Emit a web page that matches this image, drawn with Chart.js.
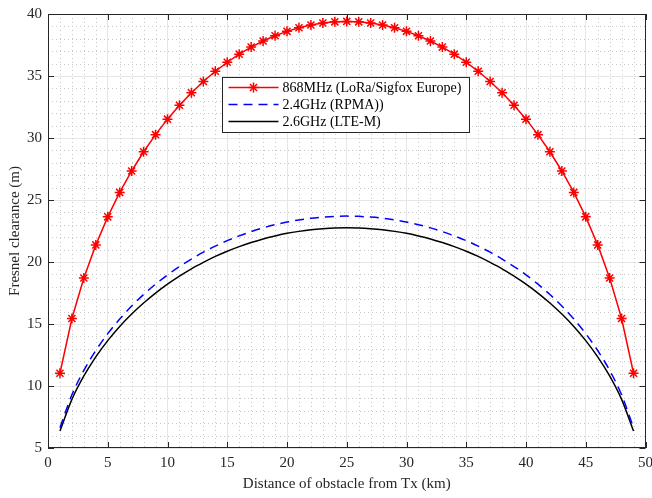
<!DOCTYPE html>
<html>
<head>
<meta charset="utf-8">
<script src="https://cdn.jsdelivr.net/npm/chart.js@4"></script>
<style>
  html, body { margin: 0; padding: 0; background: #fff; }
  #wrap { width: 652px; height: 498px; }
</style>
</head>
<body>
<div id="wrap"><canvas id="chart" width="652" height="498"></canvas></div>
<script>
// distance of the obstacle from Tx (km)
const distances = [1, 2, 3, 4, 5, 6, 7, 8, 9, 10, 11, 12, 13, 14, 15, 16, 17, 18, 19, 20, 21, 22, 23, 24, 25,
  26, 27, 28, 29, 30, 31, 32, 33, 34, 35, 36, 37, 38, 39, 40, 41, 42, 43, 44, 45, 46, 47, 48, 49];

// Fresnel clearance (m)
const lora868 = [11.03, 15.44, 18.71, 21.38, 23.64, 25.61, 27.34, 28.89, 30.27, 31.52, 32.64, 33.65, 34.56,
  35.38, 36.11, 36.76, 37.33, 37.82, 38.25, 38.60, 38.89, 39.11, 39.27, 39.37, 39.40,
  39.37, 39.27, 39.11, 38.89, 38.60, 38.25, 37.82, 37.33, 36.76, 36.11, 35.38, 34.56, 33.65, 32.64,
  31.52, 30.27, 28.89, 27.34, 25.61, 23.64, 21.38, 18.71, 15.44, 11.03];
const rpma24 = [6.64, 9.29, 11.26, 12.86, 14.22, 15.40, 16.45, 17.38, 18.21, 18.96, 19.63, 20.24, 20.79,
  21.28, 21.72, 22.11, 22.45, 22.75, 23.01, 23.22, 23.39, 23.53, 23.62, 23.68, 23.70,
  23.68, 23.62, 23.53, 23.39, 23.22, 23.01, 22.75, 22.45, 22.11, 21.72, 21.28, 20.79, 20.24, 19.63,
  18.96, 18.21, 17.38, 16.45, 15.40, 14.22, 12.86, 11.26, 9.29, 6.64];
const lte26 = [6.37, 8.92, 10.81, 12.35, 13.66, 14.80, 15.80, 16.69, 17.49, 18.21, 18.86, 19.45, 19.97,
  20.45, 20.87, 21.24, 21.57, 21.86, 22.10, 22.31, 22.47, 22.60, 22.69, 22.75, 22.77,
  22.75, 22.69, 22.60, 22.47, 22.31, 22.10, 21.86, 21.57, 21.24, 20.87, 20.45, 19.97, 19.45, 18.86,
  18.21, 17.49, 16.69, 15.80, 14.80, 13.66, 12.35, 10.81, 8.92, 6.37];

const seriesLabels = ["868MHz (LoRa/Sigfox Europe)", "2.4GHz (RPMA))", "2.6GHz (LTE-M)"];
const xTicks = [0, 5, 10, 15, 20, 25, 30, 35, 40, 45, 50];
const yTicks = [5, 10, 15, 20, 25, 30, 35, 40];

const FONT = "'Liberation Serif', 'Times New Roman', serif";

function pts(ys) {
  return distances.map((d, i) => ({ x: d, y: ys[i] }));
}

// matlab-like box: dotted minor grid, inward ticks, frame, legend inside the axes
const matlabBox = {
  id: "matlabBox",
  beforeDatasetsDraw(chart) {
    const { ctx, chartArea: a, scales: { x, y } } = chart;
    ctx.save();
    ctx.strokeStyle = "#c8c8c8";
    ctx.lineWidth = 1;
    ctx.setLineDash([1, 3]);
    for (let v = 1; v < 50; v++) {
      if (v % 5 === 0) continue;
      const px = Math.round(x.getPixelForValue(v)) + 0.5;
      ctx.beginPath(); ctx.moveTo(px, a.top); ctx.lineTo(px, a.bottom); ctx.stroke();
    }
    for (let v = 6; v < 40; v++) {
      if (v % 5 === 0) continue;
      const py = Math.round(y.getPixelForValue(v)) + 0.5;
      ctx.beginPath(); ctx.moveTo(a.left, py); ctx.lineTo(a.right, py); ctx.stroke();
    }
    ctx.restore();
  },
  afterDraw(chart) {
    const { ctx, chartArea: a, scales: { x, y } } = chart;
    ctx.save();
    ctx.strokeStyle = "#262626";
    ctx.lineWidth = 1;
    ctx.setLineDash([]);
    const t = 6;
    xTicks.forEach(v => {
      const px = Math.round(x.getPixelForValue(v)) + 0.5;
      ctx.beginPath();
      ctx.moveTo(px, a.bottom); ctx.lineTo(px, a.bottom - t);
      ctx.moveTo(px, a.top); ctx.lineTo(px, a.top + t);
      ctx.stroke();
    });
    yTicks.forEach(v => {
      const py = Math.round(y.getPixelForValue(v)) + 0.5;
      ctx.beginPath();
      ctx.moveTo(a.left, py); ctx.lineTo(a.left + t, py);
      ctx.moveTo(a.right, py); ctx.lineTo(a.right - t, py);
      ctx.stroke();
    });
    ctx.strokeStyle = "#262626";
    ctx.strokeRect(Math.round(a.left) + 0.5, Math.round(a.top) + 0.5,
      Math.round(a.right - a.left) - 1, Math.round(a.bottom - a.top) - 1);

    // legend
    const lx = 222.5, ly = 77.5, lw = 247, lh = 55;
    ctx.fillStyle = "#fff";
    ctx.fillRect(lx, ly, lw, lh);
    ctx.strokeStyle = "#262626";
    ctx.strokeRect(lx, ly, lw, lh);
    ctx.font = "14px " + FONT;
    ctx.textBaseline = "middle";
    chart.data.datasets.forEach((ds, i) => {
      const cy = ly + 10 + i * 17;
      ctx.strokeStyle = ds.borderColor;
      ctx.lineWidth = ds.borderWidth;
      ctx.setLineDash(ds.borderDash || []);
      ctx.beginPath(); ctx.moveTo(lx + 6, cy); ctx.lineTo(lx + 56, cy); ctx.stroke();
      ctx.setLineDash([]);
      if (ds.pointRadius > 0) {
        ctx.lineWidth = 1.5;
        const r = ds.pointRadius, cx = lx + 31;
        for (let k = 0; k < 4; k++) {
          const ang = k * Math.PI / 4;
          ctx.beginPath();
          ctx.moveTo(cx - r * Math.cos(ang), cy - r * Math.sin(ang));
          ctx.lineTo(cx + r * Math.cos(ang), cy + r * Math.sin(ang));
          ctx.stroke();
        }
      }
      ctx.fillStyle = "#000";
      ctx.fillText(ds.label, lx + 60, cy + 1);
    });
    ctx.restore();
  }
};

new Chart(document.getElementById("chart"), {
  type: "line",
  data: {
    datasets: [
      {
        label: seriesLabels[0],
        data: pts(lora868),
        borderColor: "#ff0000",
        backgroundColor: "#ff0000",
        borderWidth: 1.5,
        pointStyle: "star",
        pointRadius: 5,
        pointBorderWidth: 1.5,
        pointBorderColor: "#ff0000",
        tension: 0
      },
      {
        label: seriesLabels[1],
        data: pts(rpma24),
        borderColor: "#0000ff",
        borderWidth: 1.5,
        borderDash: [9, 6],
        pointRadius: 0,
        cubicInterpolationMode: "monotone"
      },
      {
        label: seriesLabels[2],
        data: pts(lte26),
        borderColor: "#000000",
        borderWidth: 1.5,
        pointRadius: 0,
        cubicInterpolationMode: "monotone"
      }
    ]
  },
  options: {
    responsive: false,
    animation: false,
    layout: { padding: { left: 0, top: 14, right: 6, bottom: 0 } },
    plugins: {
      legend: { display: false },
      tooltip: { enabled: false }
    },
    scales: {
      x: {
        type: "linear",
        min: 0,
        max: 50,
        afterFit(scale) {
          scale.height = 50;
          scale.paddingRight = 0;
          scale.paddingLeft = 0;
        },
        afterBuildTicks(scale) { scale.ticks = xTicks.map(v => ({ value: v })); },
        grid: { color: "#e6e6e6", drawTicks: false },
        border: { display: false },
        ticks: { color: "#262626", padding: 6, maxRotation: 0, font: { family: FONT, size: 15 } },
        title: {
          display: true,
          text: "Distance of obstacle from Tx (km)",
          color: "#262626",
          font: { family: FONT, size: 15 },
          padding: { top: 0, bottom: 5 }
        }
      },
      y: {
        min: 5,
        max: 40,
        afterFit(scale) {
          scale.width = 48;
          scale.paddingTop = 0;
          scale.paddingBottom = 0;
        },
        afterBuildTicks(scale) { scale.ticks = yTicks.map(v => ({ value: v })); },
        grid: { color: "#e6e6e6", drawTicks: false },
        border: { display: false },
        ticks: { color: "#262626", padding: 6, font: { family: FONT, size: 15 } },
        title: {
          display: true,
          text: "Fresnel clearance (m)",
          color: "#262626",
          font: { family: FONT, size: 15 },
          padding: { top: 6, bottom: 0 }
        }
      }
    }
  },
  plugins: [matlabBox]
});
</script>
</body>
</html>
